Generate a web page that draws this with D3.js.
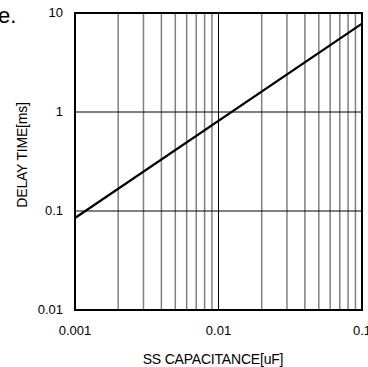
<html>
<head>
<script src="https://d3js.org/d3.v7.min.js"></script>
<style>
  body { margin: 0; background: #fff; }
  text { font-family: "Liberation Sans", Arial, sans-serif; fill: #000; }
</style>
</head>
<body>
<svg id="plot"></svg>
<script>
// data
var capacitance = [0.001, 0.1];        // uF
var delayTime = [0.085, 7.8];          // ms
var xTicks = [0.001, 0.01, 0.1];
var xTickLabels = ["0.001", "0.01", "0.1"];
var yTicks = [0.01, 0.1, 1, 10];
var yTickLabels = ["0.01", "0.1", "1", "10"];

var screen = {width: 368, height: 367};
var margins = {top: 13, bottom: 57, left: 75, right: 6};
var graph = {
    width: screen.width - margins.left - margins.right,
    height: screen.height - margins.top - margins.bottom
};

var svg = d3.select("#plot")
    .attr("width", screen.width)
    .attr("height", screen.height);

// stray text from the surrounding document
svg.append("text").attr("x", -2).attr("y", 23).style("font-size", "22px").text("e.");

var xScale = d3.scaleLog().domain([0.001, 0.1]).range([0, graph.width]);
var yScale = d3.scaleLog().domain([0.01, 10]).range([graph.height, 0]);

var g = svg.append("g")
    .attr("transform", "translate(" + margins.left + "," + margins.top + ")");

// minor vertical grid
var minor = [];
[0.001, 0.01].forEach(function(d) {
    for (var i = 2; i <= 9; i++) minor.push(d * i);
});
g.selectAll(".vminor").data(minor).enter().append("line")
    .attr("x1", function(d) { return xScale(d); })
    .attr("x2", function(d) { return xScale(d); })
    .attr("y1", 0).attr("y2", graph.height)
    .attr("stroke", "#808080").attr("stroke-width", 1.5);

// decade grid
g.selectAll(".vmajor").data([0.01]).enter().append("line")
    .attr("x1", function(d) { return xScale(d); })
    .attr("x2", function(d) { return xScale(d); })
    .attr("y1", 0).attr("y2", graph.height)
    .attr("stroke", "#000").attr("stroke-width", 1);
g.selectAll(".hmajor").data([0.1, 1]).enter().append("line")
    .attr("y1", function(d) { return yScale(d); })
    .attr("y2", function(d) { return yScale(d); })
    .attr("x1", 0).attr("x2", graph.width)
    .attr("stroke", "#000").attr("stroke-width", 1);

// curve
var line = d3.line()
    .x(function(d, i) { return xScale(capacitance[i]); })
    .y(function(d) { return yScale(d); });
g.append("path").datum(delayTime)
    .attr("d", line)
    .attr("fill", "none").attr("stroke", "#000").attr("stroke-width", 2.2);

// frame
g.append("rect")
    .attr("x", 0).attr("y", 0)
    .attr("width", graph.width).attr("height", graph.height)
    .attr("fill", "none").attr("stroke", "#000").attr("stroke-width", 2);

// tick labels
g.selectAll(".xlab").data(xTicks).enter().append("text")
    .attr("x", function(d) { return xScale(d); })
    .attr("y", graph.height + 25)
    .attr("text-anchor", "middle")
    .style("font-size", "13px")
    .text(function(d, i) { return xTickLabels[i]; });

g.selectAll(".ylab").data(yTicks).enter().append("text")
    .attr("x", -12)
    .attr("y", function(d) { return yScale(d) + 4; })
    .attr("text-anchor", "end")
    .style("font-size", "13px")
    .text(function(d, i) { return yTickLabels[i]; });

// axis titles
svg.append("text")
    .attr("x", 213)
    .attr("y", 364)
    .attr("text-anchor", "middle")
    .style("font-size", "14px")
    .style("letter-spacing", "-0.2px")
    .text("SS CAPACITANCE[uF]");

svg.append("text")
    .attr("transform", "translate(27,155) rotate(-90)")
    .attr("text-anchor", "middle")
    .style("font-size", "14px")
    .style("letter-spacing", "-0.2px")
    .text("DELAY TIME[ms]");
</script>
</body>
</html>
